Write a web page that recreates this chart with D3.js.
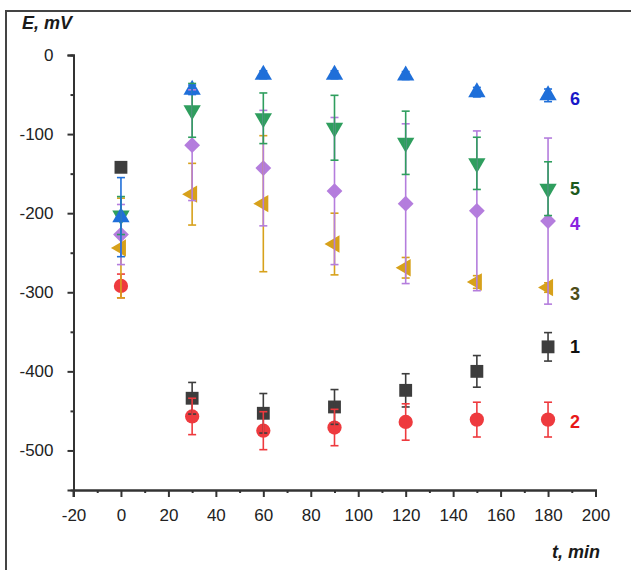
<!DOCTYPE html>
<html>
<head>
<meta charset="utf-8">
<script src="https://cdn.jsdelivr.net/npm/d3@7"></script>
<style>
body { margin: 0; background: #fff; }
svg text { font-family: "Liberation Sans", Arial, sans-serif; }
</style>
</head>
<body>
<div id="chart"></div>
<script>
// data
var times = [0, 30, 60, 90, 120, 150, 180];

var s1 = [-142, -434, -453, -445, -424, -400, -369];
var s1_err = [0, 20, 25, 22, 21, 20, 18];
var s2 = [-292, -457, -475, -471, -464, -461, -461];
var s2_err = [15, 23, 24, 23, 23, 22, 22];
var s3 = [-244, -176, -188, -239, -269, -287, -294];
var s3_err = [63, 39, 86, 39, 13, 8, 6];
var s4 = [-227, -114, -143, -172, -188, -197, -210];
var s4_err = [38, 70, 73, 93, 101, 101, 105];
var s5 = [-203, -70, -80, -92, -111, -137, -169];
var s5_err = [24, 34, 32, 41, 40, 33, 34];
var s6 = [-205, -44, -25, -25, -26, -47, -51];
var s6_err = [50, 6, 5, 5, 5, 6, 8];

var series_names = ["1", "2", "3", "4", "5", "6"];
var x_ticks = [-20, 0, 20, 40, 60, 80, 100, 120, 140, 160, 180, 200];
var y_ticks = [-500, -400, -300, -200, -100, 0];

// main variables
// ----------------------------------------
var width = 631, height = 570;

var svg = d3.select("#chart").append("svg")
	.attr("width", width)
	.attr("height", height);

// outer frame (right / bottom edges fall outside the picture)
svg.append("rect")
	.attr("x", 6).attr("y", 11)
	.attr("width", 700).attr("height", 700)
	.attr("fill", "none")
	.attr("stroke", "#444")
	.attr("stroke-width", 2);

var x = d3.scaleLinear().domain([-20, 200]).range([73.5, 595.5]);
var y = d3.scaleLinear().domain([-550, 0]).range([490, 55]);

// axes
var xAxis = svg.append("g")
	.attr("transform", "translate(0," + y(-550) + ")")
	.call(d3.axisBottom(x).tickValues(x_ticks).tickSize(7).tickPadding(12)
		.tickFormat(function(d){ return String(d); }));

var xMinor = svg.append("g")
	.attr("transform", "translate(0," + y(-550) + ")")
	.call(d3.axisBottom(x).tickValues(d3.range(-10, 200, 20)).tickSize(3).tickFormat(""));

var yAxis = svg.append("g")
	.attr("transform", "translate(" + x(-20) + ",0)")
	.call(d3.axisLeft(y).tickValues(y_ticks).tickSize(6).tickPadding(14)
		.tickFormat(function(d){ return String(d); }));

var yMinor = svg.append("g")
	.attr("transform", "translate(" + x(-20) + ",0)")
	.call(d3.axisLeft(y).tickValues(d3.range(-450, 0, 100)).tickSize(3).tickFormat(""));

[xAxis, xMinor, yAxis, yMinor].forEach(function(g){
	g.select(".domain").attr("stroke", "#333").attr("stroke-width", 2);
	g.selectAll(".tick line").attr("stroke", "#333").attr("stroke-width", 2);
	g.selectAll(".tick text").attr("font-size", 17).attr("fill", "#222");
});
// y axis runs a bit under the x axis
svg.append("line")
	.attr("x1", x(-20)).attr("x2", x(-20))
	.attr("y1", y(-550)).attr("y2", y(-550) + 7)
	.attr("stroke", "#333").attr("stroke-width", 2);

// axis titles
svg.append("text")
	.attr("x", 22).attr("y", 29)
	.attr("font-size", 18).attr("font-weight", "bold").attr("font-style", "italic")
	.attr("fill", "#1a1a1a")
	.text("E, mV");

svg.append("text")
	.attr("x", 600).attr("y", 558)
	.attr("text-anchor", "end")
	.attr("font-size", 18).attr("font-weight", "bold").attr("font-style", "italic")
	.attr("fill", "#1a1a1a")
	.text("t, min");

// series
var series = [
	{vals: s1, err: s1_err, color: "#3d3d3d", sym: d3.symbolSquare, size: 165, rot: 0, lab: "#111", labVal: -369},
	{vals: s2, err: s2_err, color: "#ee3a3e", sym: d3.symbolCircle, size: 160, rot: 0, lab: "#e81818", labVal: -464},
	{vals: s3, err: s3_err, color: "#d7a11b", sym: d3.symbolTriangle, size: 130, rot: -90, lab: "#4d4d18", labVal: -302},
	{vals: s4, err: s4_err, color: "#b47ddd", sym: d3.symbolSquare, size: 125, rot: 45, lab: "#8a22e0", labVal: -213},
	{vals: s5, err: s5_err, color: "#2f9e5e", sym: d3.symbolTriangle, size: 130, rot: 180, lab: "#1d5a1d", labVal: -169},
	{vals: s6, err: s6_err, color: "#1f6fd9", sym: d3.symbolTriangle, size: 130, rot: 0, lab: "#1818c8", labVal: -55}
];

var plot = svg.append("g").attr("id", "d3_plot");

// markers first, error bars drawn over them
series.forEach(function(s){
	var pts = times.map(function(t, i){ return {t: t, v: s.vals[i], e: s.err[i]}; });
	plot.append("g").selectAll("path")
		.data(pts)
		.enter().append("path")
		.attr("d", d3.symbol().type(s.sym).size(s.size))
		.attr("transform", function(d){
			return "translate(" + x(d.t) + "," + y(d.v) + ") rotate(" + s.rot + ")";
		})
		.attr("fill", s.color);
});

series.forEach(function(s){
	var pts = times.map(function(t, i){ return {t: t, v: s.vals[i], e: s.err[i]}; })
		.filter(function(d){ return d.e > 0; });
	var g = plot.append("g")
		.attr("stroke", s.color)
		.attr("stroke-width", 1.6);
	g.selectAll(".bar").data(pts).enter().append("line")
		.attr("x1", function(d){ return x(d.t); })
		.attr("x2", function(d){ return x(d.t); })
		.attr("y1", function(d){ return y(d.v + d.e); })
		.attr("y2", function(d){ return y(d.v - d.e); });
	[1, -1].forEach(function(sg){
		g.selectAll(".cap" + sg).data(pts).enter().append("line")
			.attr("x1", function(d){ return x(d.t) - 4; })
			.attr("x2", function(d){ return x(d.t) + 4; })
			.attr("y1", function(d){ return y(d.v + sg * d.e); })
			.attr("y2", function(d){ return y(d.v + sg * d.e); });
	});
});

// series numbers at the right
plot.append("g").selectAll("text")
	.data(series)
	.enter().append("text")
	.attr("x", 575)
	.attr("y", function(d){ return y(d.labVal); })
	.attr("dy", "0.35em")
	.attr("text-anchor", "middle")
	.attr("font-size", 18)
	.attr("font-weight", "bold")
	.attr("fill", function(d){ return d.lab; })
	.text(function(d, i){ return series_names[i]; });
</script>
</body>
</html>
